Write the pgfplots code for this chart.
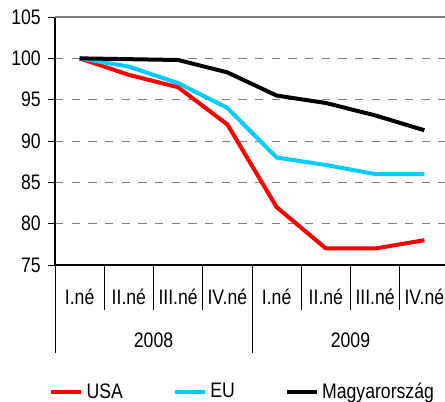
\documentclass[border=0pt]{standalone}
\usepackage{fontspec}
\setmainfont[FakeStretch=0.84]{Liberation Sans}
\usepackage{pgfplots}
\pgfplotsset{compat=1.18}
\definecolor{euc}{RGB}{0,204,255}
\newcommand{\lf}{\fontsize{12.6}{14}\selectfont}
\begin{document}
\begin{tikzpicture}
\begin{axis}[
  name=ax,
  scale only axis,
  width=236.4pt, height=148.8pt,
  xmin=0, xmax=8, ymin=75, ymax=105,
  axis x line*=bottom, axis y line*=left,
  axis line style={black, line width=0.8pt},
  xtick=\empty,
  ytick={75,80,...,100},
  extra y ticks={105},
  extra y tick style={major grid style={solid, gray, line width=0.8pt}},
  ymajorgrids,
  major grid style={dashed, gray, line width=0.6pt, dash pattern=on 5pt off 5pt},
  tick align=outside,
  major tick length=4pt,
  tick style={black, line width=0.6pt},
  ticklabel style={font=\lf},
  yticklabel style={xshift=-1pt},
  /pgf/number format/assume math mode=true,
  clip=false,
  legend style={at={(0.478,-0.512)}, anchor=center, draw=none, fill=none,
    font=\lf, legend columns=3,
    /tikz/every even column/.append style={column sep=28pt},
    inner sep=0pt},
  legend image code/.code={\draw[#1] (0pt,0pt) -- (18pt,0pt);},
]
\addplot[red, line width=2.4pt] coordinates {(0.5,100) (1.5,98) (2.5,96.5) (3.5,92) (4.5,82) (5.5,77) (6.5,77) (7.5,78)};
\addlegendentry{USA}
\addplot[euc, line width=2.4pt] coordinates {(0.5,100) (1.5,99) (2.5,97) (3.5,94) (4.5,88) (5.5,87.1) (6.5,86) (7.5,86)};
\addlegendentry{EU}
\addplot[black, line width=2.4pt] coordinates {(0.5,100) (1.5,99.9) (2.5,99.8) (3.5,98.3) (4.5,95.5) (5.5,94.6) (6.5,93.1) (7.5,91.3)};
\addlegendentry{Magyarország}
% separators
\pgfplotsinvokeforeach{1,2,3,5,6,7}{\draw[black, line width=0.6pt] (axis cs:#1,75) -- (axis cs:#1,69.56);}
\pgfplotsinvokeforeach{0,4,8}{\draw[black, line width=0.6pt] (axis cs:#1,75) -- (axis cs:#1,64.35);}
\node[font=\lf] at (axis cs:0.5,71.13) {I.né};
\node[font=\lf] at (axis cs:1.5,71.13) {II.né};
\node[font=\lf] at (axis cs:2.5,71.13) {III.né};
\node[font=\lf] at (axis cs:3.5,71.13) {IV.né};
\node[font=\lf] at (axis cs:4.5,71.13) {I.né};
\node[font=\lf] at (axis cs:5.5,71.13) {II.né};
\node[font=\lf] at (axis cs:6.5,71.13) {III.né};
\node[font=\lf] at (axis cs:7.5,71.13) {IV.né};
\node[font=\lf] at (axis cs:2,65.93) {2008};
\node[font=\lf] at (axis cs:6,65.93) {2009};
\coordinate (bl) at (axis cs:-1.117,58.55);
\coordinate (tr) at (axis cs:7.919,107.06);
\end{axis}
\pgfresetboundingbox
\path[use as bounding box] (bl) rectangle (tr);
\end{tikzpicture}
\end{document}
